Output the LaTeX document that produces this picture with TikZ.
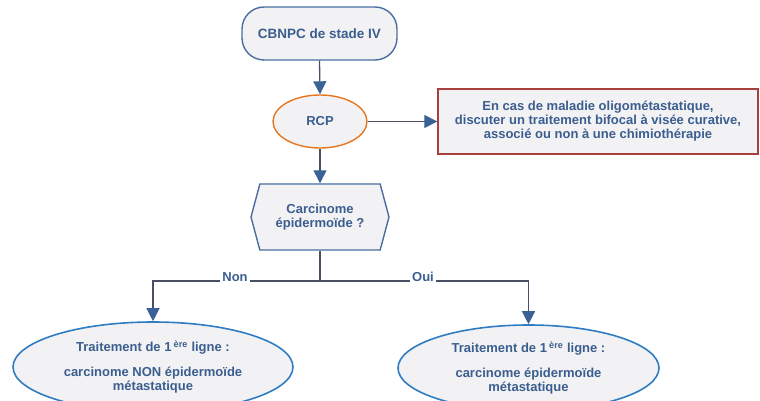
\documentclass[tikz,border=0pt]{standalone}
\usepackage{fontspec}
\setmainfont{Liberation Sans}
\usetikzlibrary{shapes.geometric,shapes.symbols,arrows.meta,shadows}

\definecolor{txtblue}{RGB}{59,94,143}
\definecolor{edgeblue}{RGB}{74,110,160}
\definecolor{ovalblue}{RGB}{47,124,194}
\definecolor{boxfill}{RGB}{242,242,244}
\definecolor{rcporange}{RGB}{232,118,30}
\definecolor{boxred}{RGB}{165,64,63}
\definecolor{linegrey}{RGB}{75,79,102}
\definecolor{tipblue}{RGB}{58,98,150}

\tikzset{
  base/.style={fill=boxfill, text=txtblue, font=\fontsize{13}{14}\selectfont\bfseries,
    align=center, line width=1.4pt, inner sep=0pt},
  startbox/.style={base, draw=edgeblue, rectangle, rounded corners=22pt,
    minimum width=155pt, minimum height=53pt, font=\fontsize{13.5}{16}\selectfont\bfseries},
  rcpnode/.style={base, draw=rcporange, ellipse, minimum width=94pt, minimum height=53pt},
  notebox/.style={base, draw=boxred, rectangle, minimum width=320pt, minimum height=65pt,
    drop shadow={shadow xshift=1.2pt, shadow yshift=-1.2pt, fill=black, opacity=0.25}},
  decision/.style={base, draw=edgeblue, signal, signal to=west and east,
    signal pointer angle=150, minimum width=138pt, minimum height=66pt},
  treatment/.style={base, draw=ovalblue, ellipse, line width=1.6pt},
  link/.style={draw=linegrey, line width=1.3pt},
  flow/.style={link, -{Triangle[length=13pt,width=13pt,color=tipblue,fill=tipblue]}},
  branchlabel/.style={fill=white, text=txtblue, font=\fontsize{13}{14}\selectfont\bfseries,
    inner sep=2.5pt, anchor=base}
}

\begin{document}
\begin{tikzpicture}[x=1pt,y=-1pt]
  \useasboundingbox (0,0) rectangle (760,401);

  % main column
  \node[startbox] (stage) at (319.5,33.5) {CBNPC de stade IV};
  \node[rcpnode] (rcp) at (320,121.5) {RCP};
  \node[notebox] (oligo) at (598,121.5)
    {En cas de maladie oligométastatique,\\
     discuter un traitement bifocal à visée curative,\\
     associé ou non à une chimiothérapie};
  \node[decision] (histo) at (320,217) {Carcinome\\épidermoïde ?};

  % first-line treatment ovals
  \node[treatment, minimum width=280pt, minimum height=90pt] (nonsq) at (153,367)
    {Traitement de 1\,\textsuperscript{ère} ligne :\\[11pt]
     carcinome NON épidermoïde\\métastatique};
  \node[treatment, minimum width=261pt, minimum height=86pt] (sq) at (528.5,368)
    {Traitement de 1\,\textsuperscript{ère} ligne :\\[11pt]
     carcinome épidermoïde\\métastatique};

  % connectors
  \draw[flow] (stage.south) -- (rcp.north);
  \draw[flow] (rcp.east) -- (rcp.east -| oligo.west);
  \draw[flow] (rcp.south) -- (histo.north);

  \coordinate (split) at (320,281);
  \draw[link] (histo.south) -- (split);
  \draw[flow] (split) -| (nonsq.north);
  \draw[flow] (split) -| (sq.north);

  \node[branchlabel] (nonlabel) at (235,281) {Non};
  \node[branchlabel] (ouilabel) at (423,281) {Oui};
\end{tikzpicture}
\end{document}
